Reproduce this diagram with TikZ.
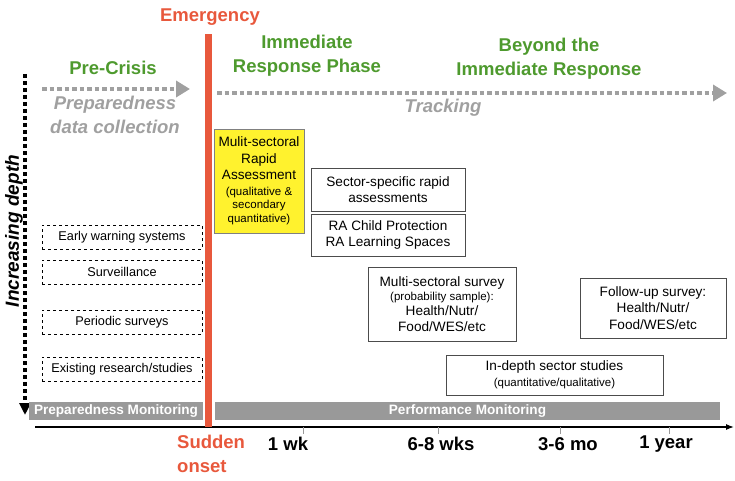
\documentclass[tikz,border=0pt]{standalone}
\usepackage{fontspec}
\setmainfont{Liberation Sans}
\usetikzlibrary{arrows.meta}
\usetikzlibrary{calc}
\definecolor{emergRed}{HTML}{E8583C}
\definecolor{phaseGreen}{HTML}{4E9A2E}
\definecolor{trackGray}{HTML}{A0A0A0}
\definecolor{barGray}{HTML}{999999}
\definecolor{raYellow}{HTML}{FFF22E}
\newcommand{\bigTxt}{\fontsize{13.6}{16.5}\selectfont}
\newcommand{\smallTxt}{\fontsize{11.5}{14}\selectfont}
\newcommand{\titleTxt}{\fontsize{18.5}{24}\selectfont\bfseries}
\newcommand{\drawTimeTick}[4]{
	\draw[barGray, line width=1pt] (#2,427) -- (#2,434);
	\node[ticklabel] (#1) at (#3,444) {#4};
}
\tikzset{
	phasetitle/.style={font=\titleTxt, text=phaseGreen, align=center, inner sep=0pt},
	greylabel/.style={font=\titleTxt\itshape, text=trackGray, align=center, inner sep=0pt},
	ticklabel/.style={font=\titleTxt, inner sep=0pt},
	dashbox/.style={draw, dashed, line width=0.7pt, font=\fontsize{12.7}{15}\selectfont, minimum width=160, minimum height=24, inner sep=0pt},
	databox/.style={draw=black!70, line width=0.8pt, font=\bigTxt, align=center, inner sep=0pt},
	monbar/.style={fill=barGray, text=white, font=\fontsize{13.6}{15}\selectfont\bfseries, minimum height=18, inner sep=0pt},
	trackline/.style={trackGray, line width=4.5pt, dash pattern=on 4.5pt off 3pt, -{Triangle[length=14pt,width=16pt]}}
}

\begin{document}
\begin{tikzpicture}[x=1pt, y=-1pt]
		\useasboundingbox (0,0) rectangle (735,481);
		\coordinate (prepStart) at (42,89);
		\coordinate (prepEnd) at (190,89);
		\coordinate (trackStart) at (217,93);
		\coordinate (trackEnd) at (727,93);
		\coordinate (depthTop) at (25,74);
		\coordinate (depthEnd) at (25,415);
		\coordinate (axisStart) at (35,427);
		\coordinate (axisEnd) at (734,427);

		\node[font=\titleTxt, text=emergRed, inner sep=0pt] (emerg) at (210,17) {Emergency};
		\node[phasetitle] (preCrisis) at (113,68) {Pre-Crisis};
		\node[phasetitle] (immResp) at (307,56) {Immediate\\Response Phase};
		\node[phasetitle] (beyond) at (549,59) {Beyond the\\Immediate Response};
		\node[greylabel] (prepData) at (115,115) {Preparedness\\data collection};
		\node[greylabel] (tracking) at (443,108) {Tracking};
		\node[font=\fontsize{19}{24}\selectfont\bfseries\itshape, rotate=90, inner sep=0pt] (depth) at (14,231) {Increasing depth};

		\draw[trackline] (prepStart) -- (prepEnd);
		\draw[trackline] (trackStart) -- (trackEnd);
		\draw[line width=4pt, dash pattern=on 4pt off 3pt, -{Triangle[length=12pt,width=11pt]}] (depthTop) -- (depthEnd);

		\node[dashbox] (earlyWarn) at (122,237) {Early warning systems};
		\node[dashbox] (surveil) at (122,272) {Surveillance};
		\node[dashbox] (periodic) at (122,322) {Periodic surveys};
		\node[dashbox] (existing) at (122,369) {Existing research/studies};

		\node[databox, fill=raYellow, draw=black!50, minimum width=90, minimum height=104] (mira) at (259,181)
			{Mulit-sectoral\\Rapid\\Assessment\\[-1pt]{\smallTxt (qualitative \&}\\[-3pt]{\smallTxt secondary}\\[-3pt]{\smallTxt quantitative)}};
		\node[databox, minimum width=154, minimum height=43] (sectorRA) at (388,189.5) {Sector-specific rapid\\assessments};
		\node[databox, minimum width=154, minimum height=42] (raChild) at (388,235) {RA Child Protection\\RA Learning Spaces};
		\node[databox, minimum width=148, minimum height=74] (msSurvey) at (442,304)
			{Multi-sectoral survey\\[-2pt]{\smallTxt (probability sample):}\\[-2pt]Health/Nutr/\\Food/WES/etc};
		\node[databox, minimum width=146, minimum height=60] (followUp) at (653,308) {Follow-up survey:\\Health/Nutr/\\Food/WES/etc};
		\node[databox, minimum width=217, minimum height=40] (inDepth) at (554.5,375)
			{In-depth sector studies\\[-1pt]{\smallTxt (quantitative/qualitative)}};

		\node[monbar, minimum width=174] (prepMon) at (116,411) {Preparedness Monitoring};
		\node[monbar, minimum width=505] (perfMon) at (467.5,411) {Performance Monitoring};

		\draw[line width=1.2pt, -{Latex[length=8pt,width=6pt]}] (axisStart) -- (axisEnd);
		\fill[emergRed] (205,34) rectangle (211.5,427);

		\node[font=\titleTxt, text=emergRed, align=left, inner sep=0pt, anchor=north west] (onset) at (177,435) {Sudden\\onset};
		\drawTimeTick{wk}{303}{288}{1 wk}
		\drawTimeTick{wks}{438}{441}{6-8 wks}
		\drawTimeTick{mo}{560}{568}{3-6 mo}
		\drawTimeTick{yr}{669}{666}{1 year}

	\end{tikzpicture}
\end{document}
